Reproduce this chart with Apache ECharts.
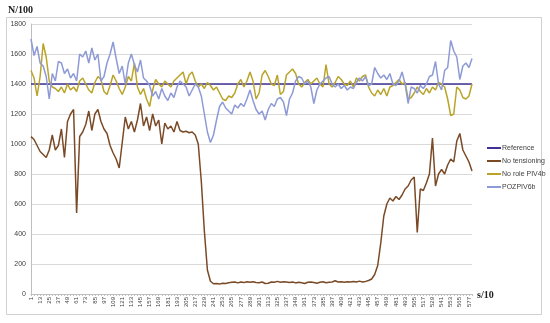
<!DOCTYPE html>
<html><head><meta charset="utf-8">
<script src="https://cdn.jsdelivr.net/npm/echarts@6/dist/echarts.min.js"></script>
<style>html,body{margin:0;padding:0;background:#fff;}#c{width:550px;height:323px;}</style>
</head><body><div id="c"></div>
<script>
// x positions (s/10), sampled every 4
const categories = [1,5,9,13,17,21,25,29,33,37,41,45,49,53,57,61,65,69,73,77,81,85,89,93,97,101,105,109,113,117,121,125,129,133,137,141,145,149,153,157,161,165,169,173,177,181,185,189,193,197,201,205,209,213,217,221,225,229,233,237,241,245,249,253,257,261,265,269,273,277,281,285,289,293,297,301,305,309,313,317,321,325,329,333,337,341,345,349,353,357,361,365,369,373,377,381,385,389,393,397,401,405,409,413,417,421,425,429,433,437,441,445,449,453,457,461,465,469,473,477,481,485,489,493,497,501,505,509,513,517,521,525,529,533,537,541,545,549,553,557,561,565,569,573,577,581];

const referenceLine = [[0,1400],[145,1400]];

const noTensioning = [
1049,1030,990,950,930,910,960,1060,960,990,
1100,910,1150,1200,1230,540,1050,1080,1130,1220,
1090,1200,1230,1150,1100,1070,990,940,900,840,
1010,1180,1100,1150,1080,1160,1270,1120,1180,1090,
1200,1120,1160,1000,1140,1100,1120,1080,1150,1090,
1080,1085,1075,1080,1060,1000,750,420,160,85,
68,70,66,72,70,75,78,80,74,80,
76,82,78,82,77,75,80,70,72,80,
78,84,78,82,80,76,80,74,78,75,
70,78,80,76,72,78,82,75,78,80,
88,80,82,78,82,80,84,80,86,80,
84,90,100,130,190,340,520,600,640,620,
650,630,660,700,720,760,780,410,700,690,
740,800,1040,720,800,830,800,860,900,880,
1020,1070,960,920,880,820];

const noRolePIV4b = [
1490,1440,1320,1450,1670,1580,1420,1380,1370,1350,
1380,1340,1400,1360,1380,1350,1420,1440,1400,1360,
1340,1410,1450,1430,1350,1330,1390,1460,1420,1370,
1330,1380,1450,1420,1540,1380,1330,1370,1300,1250,
1360,1430,1400,1380,1420,1400,1380,1420,1440,1460,
1480,1400,1460,1480,1420,1380,1400,1370,1410,1390,
1360,1380,1340,1300,1290,1320,1310,1340,1400,1430,
1380,1420,1480,1420,1300,1340,1460,1490,1450,1400,
1390,1460,1330,1350,1460,1480,1500,1470,1400,1380,
1410,1430,1400,1420,1440,1400,1380,1530,1400,1380,
1410,1450,1430,1400,1390,1420,1380,1440,1420,1450,
1460,1380,1340,1320,1360,1330,1370,1320,1380,1390,
1410,1430,1400,1410,1300,1310,1340,1380,1350,1330,
1370,1340,1380,1360,1410,1400,1380,1300,1190,1200,
1380,1360,1310,1300,1320,1400];

const pozPIV6b = [
1700,1590,1650,1540,1520,1450,1300,1470,1420,1550,
1540,1470,1500,1440,1470,1420,1600,1580,1620,1540,
1640,1560,1600,1420,1450,1540,1600,1680,1570,1470,
1520,1400,1540,1600,1530,1480,1560,1440,1420,1390,
1320,1350,1300,1370,1320,1290,1340,1310,1380,1420,
1400,1380,1320,1360,1400,1380,1320,1200,1080,1010,
1060,1160,1250,1280,1240,1220,1200,1260,1240,1270,
1250,1300,1360,1290,1230,1200,1220,1160,1230,1270,
1250,1300,1310,1280,1190,1300,1340,1420,1450,1440,
1400,1420,1380,1270,1360,1400,1420,1440,1450,1400,
1380,1400,1370,1390,1360,1380,1370,1410,1440,1420,
1450,1390,1400,1510,1470,1440,1460,1430,1470,1400,
1390,1420,1480,1400,1270,1380,1370,1340,1390,1370,
1400,1450,1460,1550,1400,1360,1490,1510,1690,1620,
1580,1430,1520,1540,1510,1570];

const seriesNames = ['Reference','No tensioning','No role PIV4b','POZPIV6b'];
const seriesColors = ['#3f3294','#7a4a26','#b9a428','#8e9ad6'];

const chart = echarts.init(document.getElementById('c'), null, {renderer:'canvas'});
const mk = (i, data) => ({
  name: seriesNames[i], type:'line', data: data, symbol:'none', showSymbol:false,
  lineStyle:{color:seriesColors[i], width:1.5}, itemStyle:{color:seriesColors[i]},
  animation:false, z: 2+i
});
chart.setOption({
  animation:false,
  backgroundColor:'#fff',
  grid:{left:31, right:78, top:24, bottom:29, containLabel:false},
  xAxis:{
    type:'category', data:categories, boundaryGap:false,
    axisLine:{show:true, lineStyle:{color:'#bfbfbf', width:1}},
    axisTick:{show:true, interval:0, length:2, lineStyle:{color:'#bfbfbf'}},
    axisLabel:{interval:2, rotate:90, fontSize:6, color:'#404040', margin:3, fontFamily:'Liberation Sans'},
    splitLine:{show:false}
  },
  yAxis:{
    type:'value', min:0, max:1800, interval:200,
    axisLine:{show:true, lineStyle:{color:'#bfbfbf'}},
    axisTick:{show:false},
    axisLabel:{fontSize:7, color:'#404040', margin:5, fontFamily:'Liberation Sans', formatter:(v)=>String(v)},
    splitLine:{show:true, lineStyle:{color:'#d9d9d9', width:1}}
  },
  legend:{
    orient:'vertical', left:482, top:139, itemWidth:14, itemHeight:2, itemGap:5, icon:'rect',
    textStyle:{fontSize:7, lineHeight:8, color:'#404040', fontFamily:'Liberation Sans', padding:[0,0,0,-4]},
    data: seriesNames
  },
  graphic:[
    {type:'rect', shape:{x:6.5, y:17.5, width:535, height:297}, style:{fill:'none', stroke:'#d0d0d0', lineWidth:1}, z:-1},
    {type:'text', left:8, top:5, style:{text:'N/100', font:'bold 10px "Liberation Serif"', fill:'#202020'}},
    {type:'text', left:477, top:290, style:{text:'s/10', font:'bold 10px "Liberation Serif"', fill:'#202020'}}
  ],
  series:[
    mk(0, referenceLine),
    mk(1, noTensioning),
    mk(2, noRolePIV4b),
    mk(3, pozPIV6b)
  ]
});
</script></body></html>
